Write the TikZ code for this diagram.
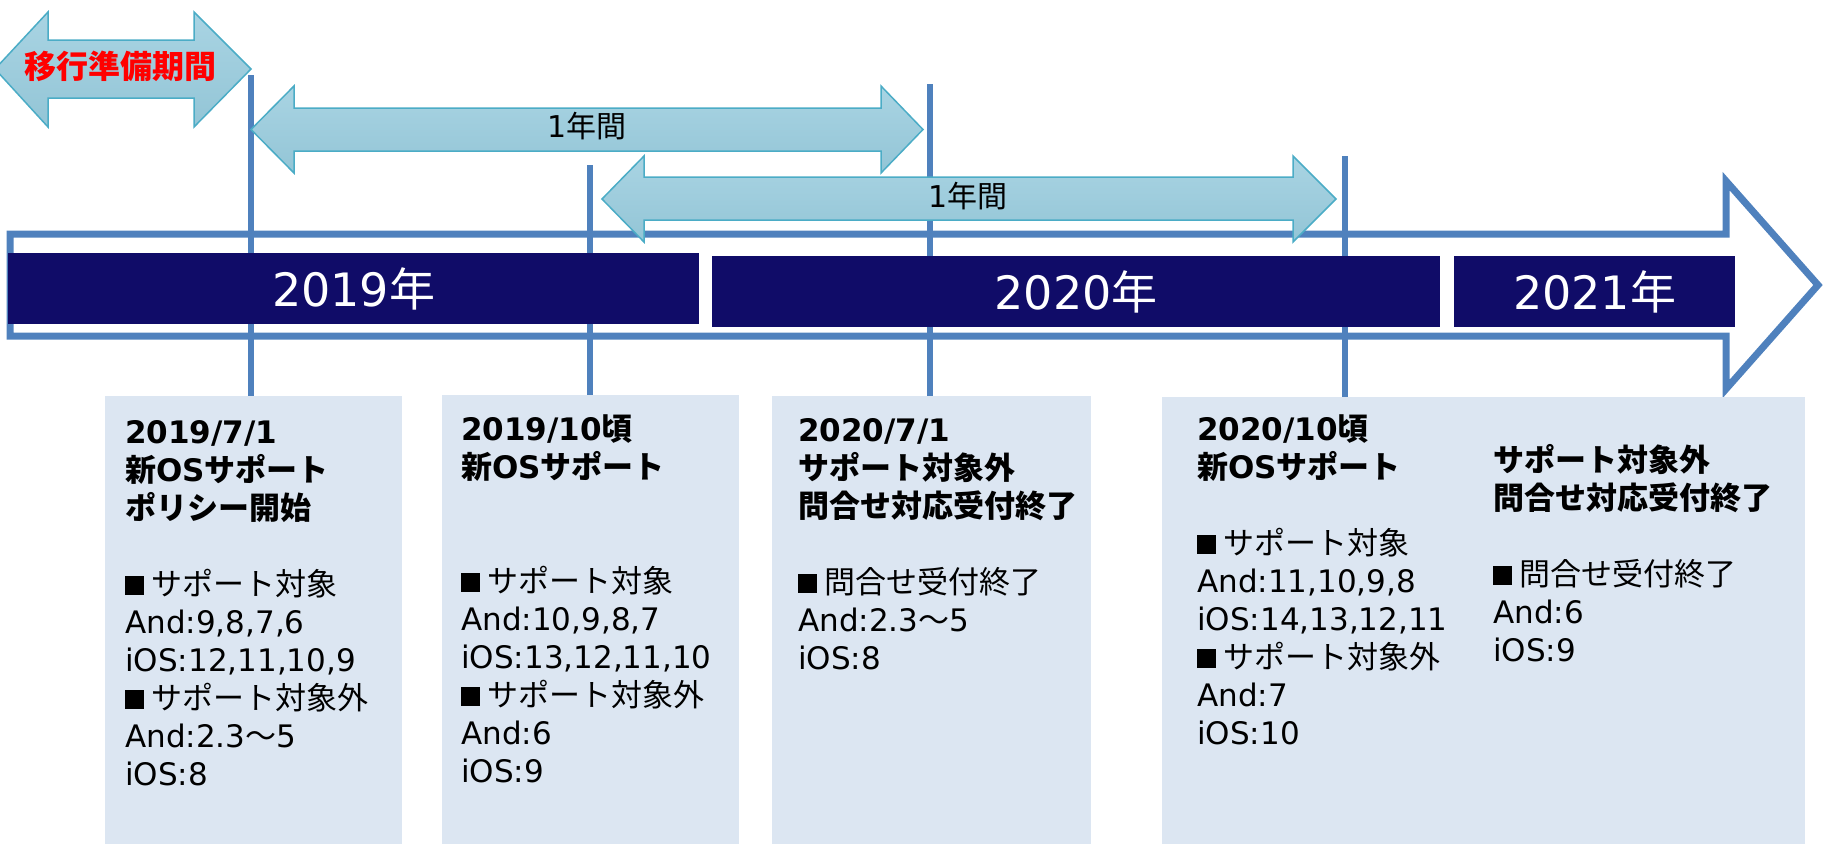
\documentclass[tikz,border=0pt]{standalone}
\usepackage{fontspec}
\setmainfont{DejaVu Sans}
\newfontfamily\jp{Noto Sans CJK JP}
\newcommand\J[1]{{\jp #1}}
\newcommand\sqmark{\hspace{0.16em}\rule{0.62em}{0.62em}\hspace{0.22em}}
\definecolor{lineblue}{HTML}{4F81BD}
\definecolor{navy}{HTML}{100C68}
\definecolor{boxblue}{HTML}{DCE6F2}
\definecolor{arrtop}{HTML}{A9D4E3}
\definecolor{arrbot}{HTML}{93C5D6}
\definecolor{arrline}{HTML}{4BACC6}
\tikzset{
  lbarrow/.style={top color=arrtop, bottom color=arrbot, draw=arrline, line width=1.5pt, line join=miter},
  vline/.style={draw=lineblue, line width=6.5pt},
  bigarrow/.style={draw=lineblue, line width=7pt, line join=miter},
  yearbox/.style={fill=navy, draw=none, text=white, inner sep=0pt, anchor=north west,
    font=\fontsize{46}{54}\selectfont},
  infobox/.style={fill=boxblue, draw=none, inner sep=0pt, anchor=north west},
  infotext/.style={anchor=base west, inner sep=0pt, font=\fontsize{31}{38}\selectfont},
  spanlabel/.style={inner sep=0pt, font=\fontsize{30}{36}\selectfont, text=black},
}
\begin{document}
\begin{tikzpicture}[x=1pt, y=-1pt]
\useasboundingbox (0,0) rectangle (1825,844);

% big outline timeline arrow
\draw[bigarrow] (10,234) -- (1726,234) -- (1726,181) -- (1818,285) -- (1726,389) -- (1726,336) -- (10,336) -- cycle;

% info boxes
\node[infobox, minimum width=297pt, minimum height=448pt] (b1) at (105,396) {};
\node[infobox, minimum width=297pt, minimum height=449pt] (b2) at (442,395) {};
\node[infobox, minimum width=319pt, minimum height=448pt] (b3) at (772,396) {};
\node[infobox, minimum width=643pt, minimum height=447pt] (b4) at (1162,397) {};

% vertical marker lines
\coordinate (t1) at (251,75);
\coordinate (t2) at (590,165);
\coordinate (t3) at (930,84);
\coordinate (t4) at (1345,156);
\draw[vline] (t1) -- (t1 |- b1.north);
\draw[vline] (t2) -- (t2 |- b2.north);
\draw[vline] (t3) -- (t3 |- b3.north);
\draw[vline] (t4) -- (t4 |- b4.north);

% year bars
\node[yearbox, minimum width=691pt, minimum height=71pt] (y2019) at (8,253) {2019\J{年}};
\node[yearbox, minimum width=728pt, minimum height=71pt] (y2020) at (712,256) {2020\J{年}};
\node[yearbox, minimum width=281pt, minimum height=71pt] (y2021) at (1454,256) {2021\J{年}};

% light blue span arrows
\shadedraw[lbarrow] (-5,69) -- (48,12) -- (48,40) -- (194,40) -- (194,12) -- (251,69)
  -- (194,127) -- (194,98) -- (48,98) -- (48,127) -- cycle;
\node[inner sep=0pt, text=red, font=\fontsize{32}{36}\selectfont\bfseries] (prep) at (120,66) {\J{移行準備期間}};

\shadedraw[lbarrow] (251,129.5) -- (294,86) -- (294,108) -- (881,108) -- (881,86) -- (923,129.5)
  -- (881,173) -- (881,151) -- (294,151) -- (294,173) -- cycle;
\node[spanlabel] (span1) at (587,126) {1\J{年間}};

\shadedraw[lbarrow] (602,199) -- (644,156) -- (644,177) -- (1293,177) -- (1293,156) -- (1336,199)
  -- (1293,242) -- (1293,220) -- (644,220) -- (644,242) -- cycle;
\node[spanlabel] (span2) at (968,196) {1\J{年間}};

% box texts
\node[infotext] (tx1) at (125,443) {\parbox[t]{280pt}{%
  \textbf{2019/7/1}\\
  \textbf{\J{新}OS\J{サポート}}\\
  \textbf{\J{ポリシー開始}}\\
  \mbox{}\\
  \sqmark\J{サポート対象}\\
  And:9,8,7,6\\
  iOS:12,11,10,9\\
  \sqmark\J{サポート対象外}\\
  And:2.3\J{〜}5\\
  iOS:8}};

\node[infotext] (tx2) at (461,440) {\parbox[t]{280pt}{%
  \textbf{2019/10\J{頃}}\\
  \textbf{\J{新}OS\J{サポート}}\\
  \mbox{}\\
  \mbox{}\\
  \sqmark\J{サポート対象}\\
  And:10,9,8,7\\
  iOS:13,12,11,10\\
  \sqmark\J{サポート対象外}\\
  And:6\\
  iOS:9}};

\node[infotext] (tx3) at (798,441) {\parbox[t]{300pt}{%
  \textbf{2020/7/1}\\
  \textbf{\J{サポート対象外}}\\
  \textbf{\J{問合せ対応受付終了}}\\
  \mbox{}\\
  \sqmark\J{問合せ受付終了}\\
  And:2.3\J{〜}5\\
  iOS:8}};

\node[infotext] (tx4) at (1197,440) {\parbox[t]{290pt}{%
  \textbf{2020/10\J{頃}}\\
  \textbf{\J{新}OS\J{サポート}}\\
  \mbox{}\\
  \sqmark\J{サポート対象}\\
  And:11,10,9,8\\
  iOS:14,13,12,11\\
  \sqmark\J{サポート対象外}\\
  And:7\\
  iOS:10}};

\node[infotext] (tx5) at (1493,471) {\parbox[t]{300pt}{%
  \textbf{\J{サポート対象外}}\\
  \textbf{\J{問合せ対応受付終了}}\\
  \mbox{}\\
  \sqmark\J{問合せ受付終了}\\
  And:6\\
  iOS:9}};
\end{tikzpicture}
\end{document}
